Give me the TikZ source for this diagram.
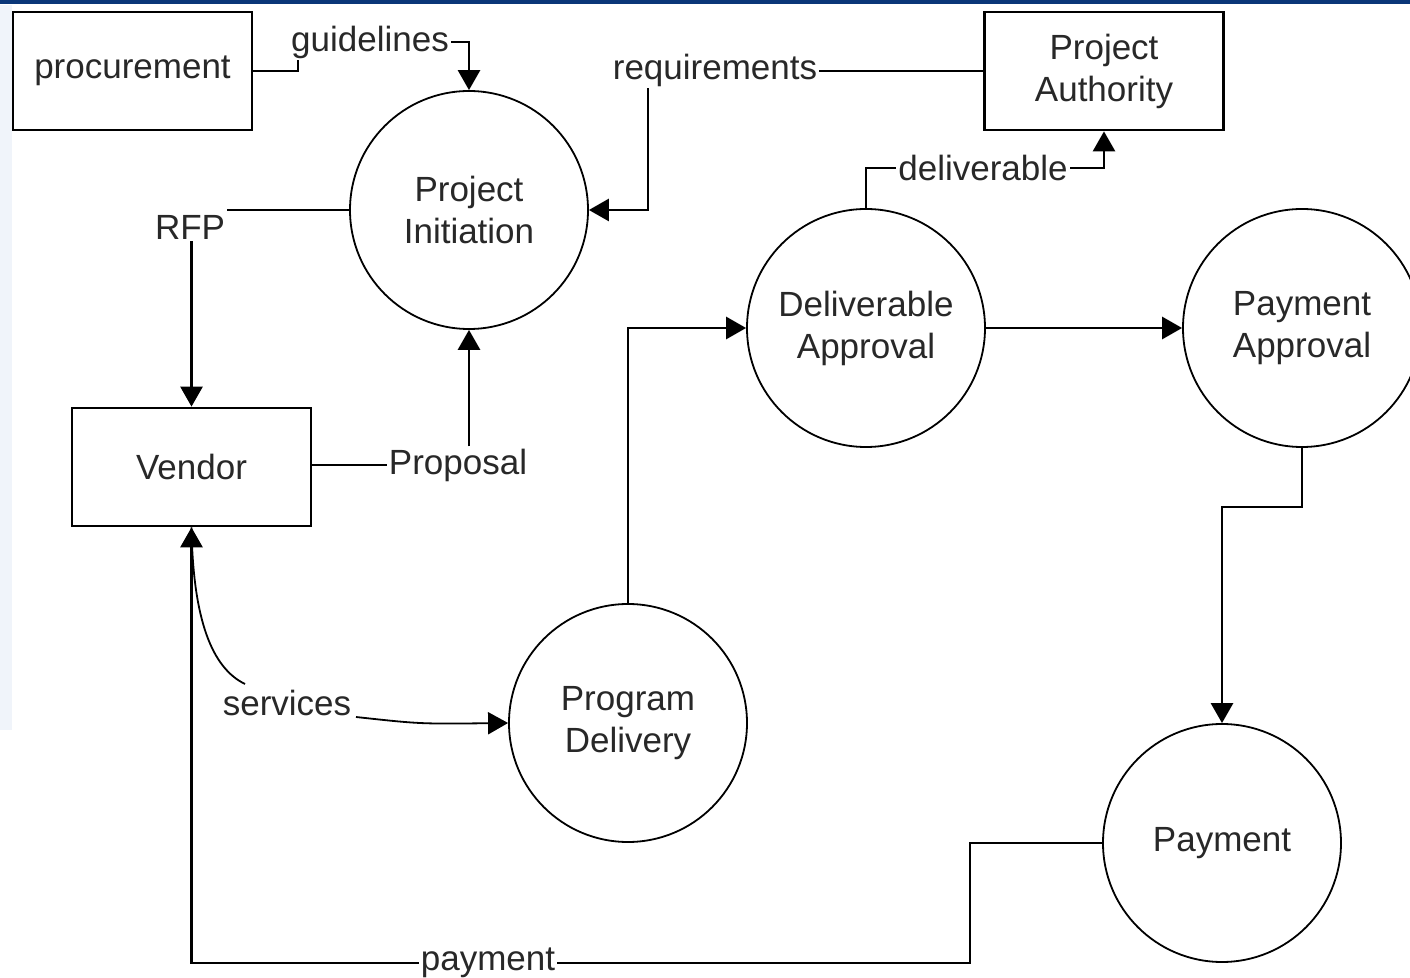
\documentclass[tikz,border=0pt]{standalone}
\usepackage{fontspec}
\setmainfont{Liberation Sans}
\usetikzlibrary{arrows.meta}
\pgfdeclarelayer{back}
\pgfdeclarelayer{bg}
\pgfsetlayers{back,bg,main}
\definecolor{topbar}{RGB}{10,54,120}
\definecolor{sidestrip}{RGB}{240,244,250}
\definecolor{txt}{RGB}{40,40,40}
\begin{document}
\begin{tikzpicture}[x=0.5pt,y=-0.5pt,
  every node/.style={font=\fontsize{17.5pt}{21pt}\selectfont, text=txt},
  box/.style={draw, line width=1.4pt, minimum width=119.5pt, minimum height=59pt, inner sep=0pt, align=center},
  proc/.style={draw, circle, line width=0.9pt, minimum size=119pt, inner sep=0pt, align=center},
  flow/.style={line width=1.4pt},
  arr/.style={flow, -{Triangle[length=10pt,width=11pt]}},
  thinarr/.style={line width=0.9pt, -{Triangle[length=10pt,width=11pt]}},
  lbl/.style={fill=white, inner sep=1pt}]
\useasboundingbox (0,0) rectangle (1410,978);
\clip (0,0) rectangle (1410,978);
\begin{pgfonlayer}{back}
\fill[white] (0,0) rectangle (1410,978);
\fill[sidestrip] (0,5) rectangle (12,730);
\fill[topbar] (0,0) rectangle (1410,4);
\end{pgfonlayer}

% entities
\node[box] (proc) at (132.5,71) {procurement};
\node[box] (auth) at (1104,71) {Project\\Authority};
\node[box] (vend) at (191.5,467) {Vendor};

% processes
\node[proc] (init) at (469,210) {Project\\Initiation};
\node[proc] (dapp) at (866,328) {Deliverable\\Approval};
\node[proc] (papp) at (1302,328) {Payment\\Approval};
\node[proc] (prog) at (628,723) {Program\\Delivery};
\node[proc] (pay) at (1222,843) {Payment};

% flow labels
\node[lbl] (gl) at (370,42) {guidelines};
\node[lbl] (req) at (715,70) {requirements};
\node[lbl] (rfp) at (190,227) {RFP};
\node[lbl] (prop) at (458,465) {Proposal};
\node[lbl] (dl) at (983,168) {deliverable};
\node[lbl] (svc) at (287,703) {services};
\node[lbl] (pm) at (488,963) {payment};

\coordinate (s1) at (245,684);
\coordinate (s2) at (356,717);

\begin{pgfonlayer}{bg}
\draw[arr] (proc.east) -- (298,71) -- (298,42) -- (init.north |- gl) -- (init.north);
\draw[arr] (auth.west) -- (648,71) |- (init.east);
\draw[flow] (init.west) -- (rfp.north east |- init.west);
\draw[arr] (vend.north |- rfp.south) -- (vend.north);
\draw[flow] (vend.east |- prop.west) -- (prop.west);
\draw[arr] (init.south |- prop.north) -- (init.south);
\draw[arr] (dapp.north) |- (dl) -| (auth.south);
\draw[arr] (prog.north) |- (dapp.west);
\draw[arr] (dapp.east) -- (papp.west);
\draw[arr] (papp.south) -- (1302,507) -| (pay.north);
\draw[arr] (pay.west) -- (970,843) -- (970,963) -| (vend.south);
\draw[line width=0.9pt] (vend.south) .. controls (193,620) and (212,668) .. (s1);
\draw[thinarr] (s2) .. controls (420,724) .. (prog.west);
\end{pgfonlayer}
\end{tikzpicture}
\end{document}
